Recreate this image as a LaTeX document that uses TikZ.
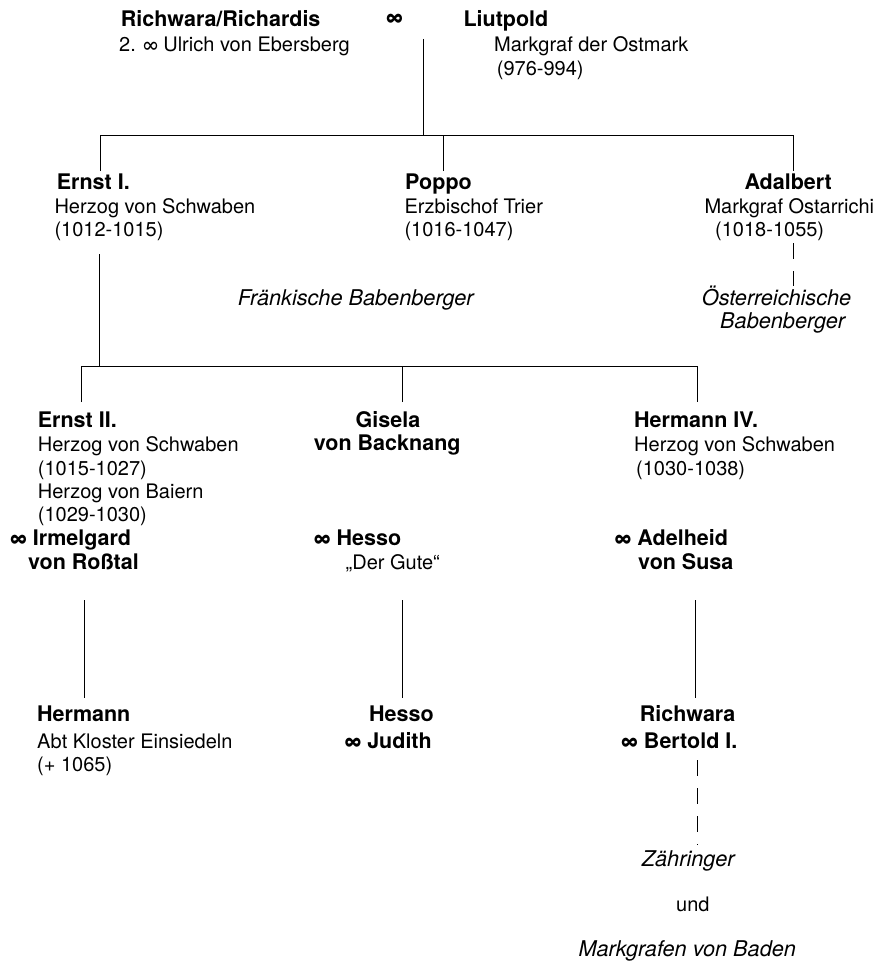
\documentclass[tikz,border=0pt]{standalone}
\usepackage{fontspec}
\setmainfont{TeX Gyre Heros}
\usetikzlibrary{positioning}

\begin{document}
\begin{tikzpicture}[
  x=1pt, y=-1pt,
  person/.style={anchor=base west, inner sep=0pt, align=left, font=\fontsize{21.5}{23.4}\selectfont\bfseries},
  info/.style={anchor=base west, inner sep=0pt, align=left, font=\fontsize{20}{23.4}\selectfont},
  house/.style={anchor=base west, inner sep=0pt, align=left, font=\fontsize{21.7}{22.6}\selectfont\itshape},
  link/.style={line width=1pt},
  descent/.style={line width=1pt, dash pattern=on 16pt off 12pt}
]
  \useasboundingbox (0,0) rectangle (876,963);

  % parents (multi-line nodes sit on the baseline of their last line)
  \node[person] (richwara) at (120.7,26.7) {Richwara/Richardis};
  \node[info] (richwarainfo) at (119,51.7) {2. ∞ Ulrich von Ebersberg};
  \node[person] (wed) at (386,25) {∞};
  \node[person] (liutpold) at (463.3,26.7) {Liutpold};
  \node[info] (liutpoldinfo) at (494,75.1) {Markgraf der Ostmark\\\hspace*{2.7pt}(976-994)};

  % children
  \node[person] (ernstI) at (56.7,189) {Ernst I.};
  \node[info] (ernstIinfo) at (54.3,236.7) {Herzog von Schwaben\\(1012-1015)};
  \node[person] (poppo) at (405,189) {Poppo};
  \node[info] (poppoinfo) at (404.3,236.7) {Erzbischof Trier\\(1016-1047)};
  \node[person] (adalbert) at (744.3,189) {Adalbert};
  \node[info] (adalbertinfo) at (704.3,236.7) {Markgraf Ostarrichi\\\hspace*{10.7pt}(1018-1055)};
  \node[house] (frank) at (237.7,305.7) {Fränkische Babenberger};
  \node[house] (austria) at (701.7,328.3) {Österreichische\\\hspace*{18.3pt}Babenberger};

  % grandchildren
  \node[person] (ernstII) at (37.7,427.3) {Ernst II.};
  \node[info] (ernstIIinfo) at (37.7,521.9) {Herzog von Schwaben\\(1015-1027)\\Herzog von Baiern\\(1029-1030)};
  \node[person] (gisela) at (313.7,450.7) {\hspace*{41.8pt}Gisela\\von Backnang};
  \node[person] (hermannIV) at (634,427.3) {Hermann IV.};
  \node[info] (hermannIVinfo) at (634,475.1) {Herzog von Schwaben\\\hspace*{2pt}(1030-1038)};

  % spouses
  \node[person] (irmelgard) at (10,569) {∞ Irmelgard\\\hspace*{18pt}von Roßtal};
  \node[person] (hesso) at (313.7,545) {∞ Hesso};
  \node[info] (hessoinfo) at (345.5,569) {„Der Gute“};
  \node[person] (adelheid) at (614.5,569) {∞ Adelheid\\\hspace*{23.5pt}von Susa};

  % great-grandchildren
  \node[person] (hermann) at (37,721.5) {Hermann};
  \node[info] (hermanninfo) at (37,771.4) {Abt Kloster Einsiedeln\\(+ 1065)};
  \node[person] (hessoII) at (344.3,748) {\hspace*{24.7pt}Hesso\\[3pt]∞ Judith};
  \node[person] (richwaraII) at (621,748) {\hspace*{18.6pt}Richwara\\[3pt]∞ Bertold I.};

  % descendants
  \node[house] (zaehringer) at (641.7,866.7) {Zähringer};
  \node[info] (und) at (676,911.7) {und};
  \node[house] (baden) at (578.3,956) {Markgrafen von Baden};

  % junctions
  \coordinate (couple) at (423,39);
  \coordinate (bar1) at (423,135);
  \coordinate (bar1w) at (100,135);
  \coordinate (bar1e) at (793,135);
  \coordinate (ernstItop) at (100,171);
  \coordinate (poppotop) at (443,171);
  \coordinate (adalberttop) at (793,171);
  \coordinate (ernstIbot) at (99,254);
  \coordinate (bar2) at (99,366);
  \coordinate (bar2w) at (81,366);
  \coordinate (bar2e) at (697,366);
  \coordinate (ernstIItop) at (81,402);
  \coordinate (giselatop) at (402,402);
  \coordinate (hermannIVtop) at (697,402);

  % lines
  \draw[link] (couple) -- (bar1);
  \draw[link] (ernstItop) -- (bar1w) -- (bar1e) -- (adalberttop);
  \draw[link] (poppotop) -- (poppotop |- bar1);
  \draw[link] (ernstIbot) -- (bar2);
  \draw[link] (ernstIItop) -- (bar2w) -- (bar2e) -- (hermannIVtop);
  \draw[link] (giselatop) -- (giselatop |- bar2);
  \draw[link] (84,600) -- (84,698);
  \draw[link] (402,600) -- (402,698);
  \draw[link] (695,600) -- (695,698);
  \draw[descent] (793.7,243) -- (793.7,286);
  \draw[descent] (697.5,760) -- (697.5,845);
\end{tikzpicture}
\end{document}
